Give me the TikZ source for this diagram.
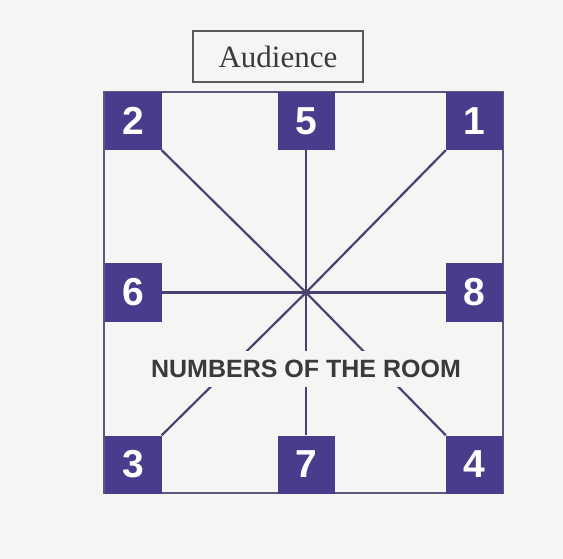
\documentclass[tikz,border=0pt]{standalone}
\usepackage{fontspec}
\setmainfont{Liberation Serif}
\newfontfamily\arialf{Liberation Sans}
\definecolor{bgc}{RGB}{245,246,244}
\definecolor{boxc}{RGB}{74,60,140}
\definecolor{linec}{RGB}{72,66,112}
\definecolor{bordc}{RGB}{92,88,122}
\definecolor{txtc}{RGB}{58,58,58}
\tikzset{
  numbox/.style={fill=boxc, draw=none, minimum width=57pt, minimum height=58pt, inner sep=0pt,
    text=white, font=\arialf\bfseries\fontsize{39}{39}\selectfont},
  spoke/.style={draw=linec, line width=2.2pt},
  border/.style={draw=bordc, line width=2pt},
}
\begin{document}
\begin{tikzpicture}[x=1pt,y=-1pt]
\fill[bgc] (0,0) rectangle (563,559);
\useasboundingbox (0,0) rectangle (563,559);
% audience
\node[draw=black!65, line width=1.4pt, minimum width=170pt, minimum height=51pt, inner sep=0pt,
  text=txtc, font=\fontsize{31}{31}\selectfont] (aud) at (278,56.5) {Audience};
% outer border
\draw[border] (104,92) rectangle (503,493);
% center
\coordinate (c) at (306,292.5);
% boxes
\node[numbox] (b2) at (133,121) {2};
\node[numbox] (b5) at (306,121) {5};
\node[numbox] (b1) at (474.5,121) {1};
\node[numbox] (b6) at (133,292.5) {6};
\node[numbox] (b8) at (474.5,292.5) {8};
\node[numbox] (b3) at (133,464.5) {3};
\node[numbox] (b7) at (306,464.5) {7};
\node[numbox] (b4) at (474.5,464.5) {4};
% spokes
\draw[spoke] (b2.south east) -- (c);
\draw[spoke] (b5.south) -- (c);
\draw[spoke] (b1.south west) -- (c);
\draw[spoke] (b6.east) -- (c);
\draw[spoke] (b8.west) -- (c);
\draw[spoke] (b3.north east) -- (c);
\draw[spoke] (b7.north) -- (c);
\draw[spoke] (b4.north west) -- (c);
% label masking the spokes
\node[fill=bgc, inner xsep=4pt, inner ysep=9pt, text=txtc,
  font=\arialf\bfseries\fontsize{25}{25}\selectfont] (lbl) at (306,369) {NUMBERS OF THE ROOM};
\end{tikzpicture}
\end{document}
